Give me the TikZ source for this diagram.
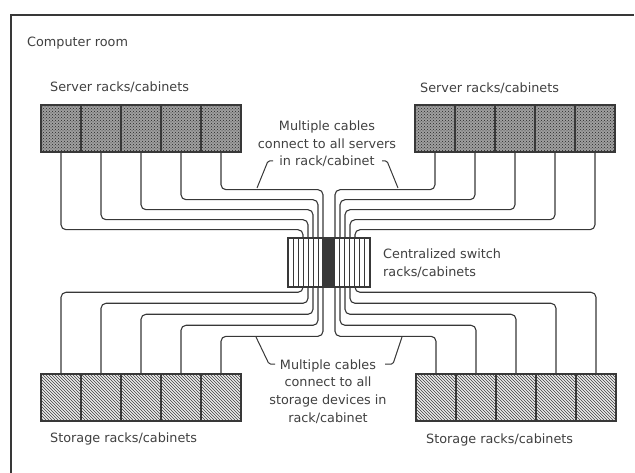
\documentclass[tikz,border=0pt]{standalone}
\usepackage{fontspec}
\setmainfont{DejaVu Sans}
\usepackage{xcolor}
\colorlet{colLine}{black!78}
\colorlet{colText}{black!75}
\colorlet{colSrv}{gray!75}
\usepackage{tikz}
\usetikzlibrary{patterns, calc}

\begin{document}
\begin{tikzpicture}[x=1pt, y=-1pt,
		lbl/.style={font=\fontsize{12.8}{17.6}\selectfont, text=colText, inner sep=0pt},
		srvcell/.style={draw=colLine, line width=1.4pt, minimum width=40pt,
			minimum height=47pt, inner sep=0pt, preaction={fill=colSrv},
			pattern=crosshatch dots, pattern color=black!85},
		stocell/.style={draw=colLine, line width=1.4pt, minimum width=40pt,
			minimum height=47pt, inner sep=0pt, preaction={fill=gray!15},
			pattern=north west lines, pattern color=black!75},
		cable/.style={draw=colLine, line width=1.1pt, rounded corners=5pt},
		leader/.style={draw=colLine, line width=1pt, rounded corners=1.5pt}
	]
	\useasboundingbox (0,0) rectangle (635,473);

	% ===== Room outline =====
	\draw[colLine, line width=1.3pt] (11,473) -- (11,15) -- (634,15);
	\node[lbl, anchor=west] (room) at (27,43) {Computer room};

	% ===== Racks: servers on top, storage below =====
	\foreach \i in {1,...,5}{
		\node[srvcell] (srvA\i) at ({21+40*\i},128.5) {};
		\node[srvcell] (srvB\i) at ({395+40*\i},128.5) {};
		\node[stocell] (stoA\i) at ({21+40*\i},397.5) {};
		\node[stocell] (stoB\i) at ({396+40*\i},397.5) {};
	}
	\node[lbl, anchor=west] (srvAlbl) at (50,87)  {Server racks/cabinets};
	\node[lbl, anchor=west] (srvBlbl) at (420,88) {Server racks/cabinets};
	\node[lbl, anchor=west] (stoAlbl) at (50,439) {Storage racks/cabinets};
	\node[lbl, anchor=west] (stoBlbl) at (426,440) {Storage racks/cabinets};

	% ===== Centralized switch =====
	\fill[colLine] (322,238) rectangle (335,287);
	\foreach \k in {1,...,15}
		\draw[colLine, line width=1pt] ({288+5.125*\k},238) -- ({288+5.125*\k},287);
	\node[draw=colLine, line width=1.4pt, minimum width=82pt, minimum height=49pt,
		inner sep=0pt] (sw) at (329,262.5) {};
	\node[lbl, anchor=west, align=left] (swlbl) at (383,263.5)
		{Centralized switch\\racks/cabinets};

	% ===== Cables, nested so none cross =====
	\foreach \i in {1,...,5}{
		\draw[cable] (srvA\i.south) -- ++(0,{77-10*(\i-1)})
			-| ([xshift={-26+5*(\i-1)}]sw.north);
		\draw[cable] (srvB\i.south) -- ++(0,{37+10*(\i-1)})
			-| ([xshift={6+5*(\i-1)}]sw.north);
		\draw[cable] (stoA\i.north) -- ++(0,{-81+11*(\i-1)})
			-| ([xshift={-26+5*(\i-1)}]sw.south);
		\draw[cable] (stoB\i.north) -- ++(0,{-37-11*(\i-1)})
			-| ([xshift={6+5*(\i-1)}]sw.south);
	}

	% ===== Notes and their leaders =====
	\node[lbl, align=center] (noteTop) at (327,144)
		{Multiple cables\\connect to all servers\\in rack/cabinet};
	\node[lbl, align=center] (noteBot) at (328,391.5)
		{Multiple cables\\connect to all\\storage devices in\\rack/cabinet};
	\coordinate (ldTa) at (273,161);
	\coordinate (ldTb) at (257,188);
	\coordinate (ldTc) at (382,161);
	\coordinate (ldTd) at (398,188);
	\draw[leader] (ldTa) -- ++(-5,0) -- (ldTb);
	\draw[leader] (ldTc) -- ++(5,0) -- (ldTd);
	\coordinate (ldBa) at (275,364);
	\coordinate (ldBb) at (256,337);
	\coordinate (ldBc) at (385,364);
	\coordinate (ldBd) at (402,337);
	\draw[leader] (ldBa) -- ++(-6,0) -- (ldBb);
	\draw[leader] (ldBc) -- ++(8,0) -- (ldBd);
\end{tikzpicture}
\end{document}
